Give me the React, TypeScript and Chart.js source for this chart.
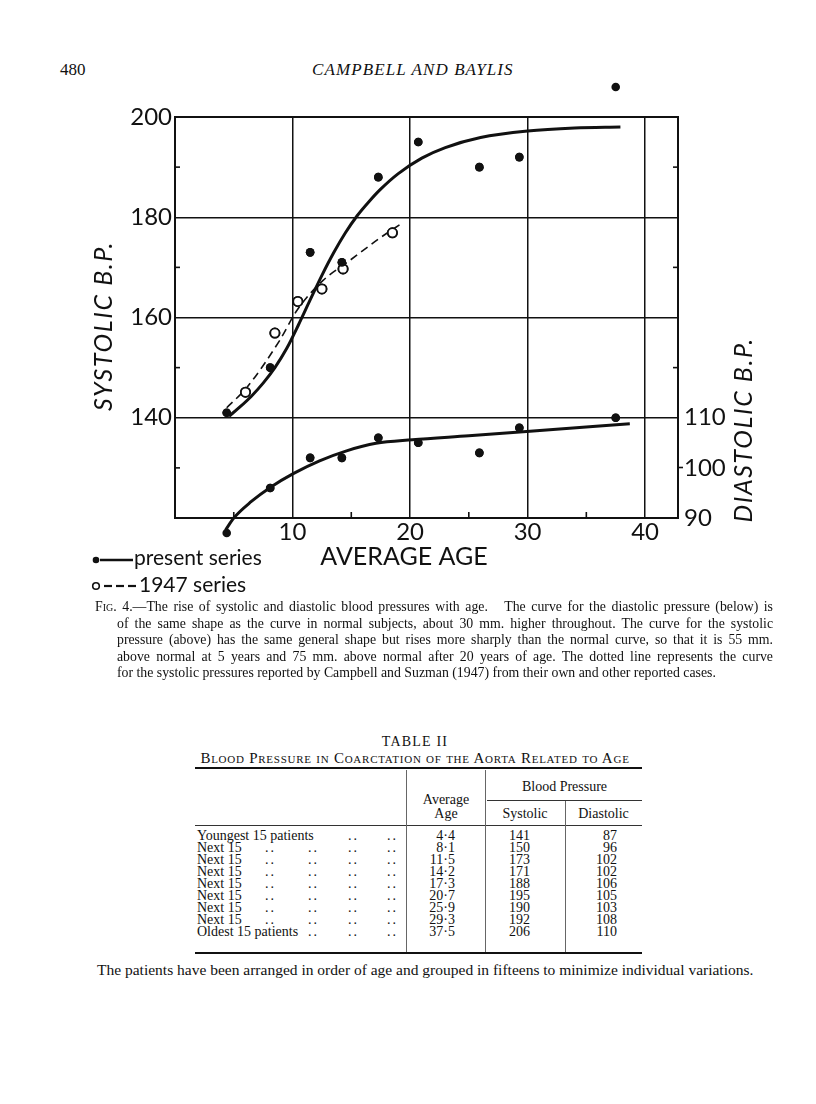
import React, { useEffect, useRef } from "react";
import { Chart, registerables } from "chart.js";

Chart.register(...registerables);

// ---------------- data ----------------
const groupLabels = [
  "Youngest 15 patients",
  "Next 15",
  "Next 15",
  "Next 15",
  "Next 15",
  "Next 15",
  "Next 15",
  "Next 15",
  "Oldest 15 patients",
];
const leaderCounts = [2, 4, 4, 4, 4, 4, 4, 4, 3];
const averageAge = [4.4, 8.1, 11.5, 14.2, 17.3, 20.7, 25.9, 29.3, 37.5];
const systolicBP = [141, 150, 173, 171, 188, 195, 190, 192, 206];
const diastolicBP = [87, 96, 102, 102, 106, 105, 103, 108, 110];

// 1947 series (Campbell and Suzman) open circles
const age1947 = [6.0, 8.5, 10.45, 12.5, 14.3, 18.5];
const systolic1947 = [145.1, 156.9, 163.2, 165.7, 169.7, 176.9];

// fitted curves
const sysCurveAge = [4.6, 5.5, 6.5, 7.5, 8.5, 9.5, 10.5, 11.5, 12.5, 13.5, 14.5, 15.5, 16.5, 17.5, 19, 21, 23, 26, 30, 34, 37.9];
const sysCurveBP = [140.3, 142.1, 144.3, 146.9, 150.0, 153.8, 158.5, 163.5, 168.4, 172.9, 176.9, 180.3, 183.1, 185.6, 188.7, 191.8, 193.9, 195.9, 197.2, 197.8, 198.0];
const curve1947Age = [4.4, 6.1, 8.9, 10.4, 12.6, 14.6, 17.4, 19.3];
const curve1947BP = [142, 146, 155.4, 161.5, 167.4, 170.9, 175.8, 178.8];
const diaCurveAge = [4.3, 5.0, 6.5, 8.1, 10.1, 12.3, 14.6, 17.1, 20.2, 25.0, 30.2, 38.7];
const diaCurveBP = [87.6, 90, 93.3, 96.1, 98.9, 101.4, 103.4, 104.9, 105.6, 106.4, 107.3, 108.8];

// axes
const ageTicks = [10, 20, 30, 40];
const ageMinorTicks = [5, 15, 25, 35];
const systolicTicks = [140, 160, 180, 200];
const systolicMinorLeft = [130, 150, 170, 190];
const systolicMinorRight = [150, 170, 190];
const diastolicTicks = [90, 100, 110];
const diastolicMarked = [100];

const xTitle = "AVERAGE AGE";
const yTitle = "SYSTOLIC B.P.";
const y2Title = "DIASTOLIC B.P.";
const legendLabels = ["present series", "1947 series"];

const INK = "#111";
const SANS = "Lato";

const pts = (xs: number[], ys: number[]) => xs.map((x, i) => ({ x, y: ys[i] }));

const drawLine = (ctx: CanvasRenderingContext2D, x1: number, y1: number, x2: number, y2: number) => {
  ctx.beginPath();
  ctx.moveTo(x1, y1);
  ctx.lineTo(x2, y2);
  ctx.stroke();
};

const decorPlugin = {
  id: "decor",
  afterDatasetsDraw(chart: any) {
    // redraw point marks without the chart-area cut so out-of-range points show
    const ctx = chart.ctx;
    const whole = { left: -9999, top: -9999, right: 9999, bottom: 9999 };
    const metas = chart.getSortedVisibleDatasetMetas();
    for (let i = metas.length - 1; i >= 0; i--) {
      for (const el of metas[i].data) el.draw(ctx, whole);
    }
  },
  afterDraw(chart: any) {
    const { ctx, chartArea: a, scales } = chart;
    const sx = scales.x;
    const sy = scales.y;
    ctx.save();
    ctx.strokeStyle = INK;
    ctx.fillStyle = INK;
    ctx.lineWidth = 1.6;
    systolicMinorLeft.forEach((v) => {
      const p = sy.getPixelForValue(v);
      drawLine(ctx, a.left, p, a.left + 5, p);
    });
    systolicMinorRight.forEach((v) => {
      const p = sy.getPixelForValue(v);
      drawLine(ctx, a.right - 5, p, a.right, p);
    });
    ageMinorTicks.forEach((v) => {
      const p = sx.getPixelForValue(v);
      drawLine(ctx, p, a.bottom, p, a.bottom - 6);
    });

    // x title
    ctx.textAlign = "center";
    ctx.textBaseline = "alphabetic";
    ctx.font = `25px ${SANS}`;
    ctx.fillText(xTitle, 404, 505);

    // rotated titles
    ctx.font = `italic 25px ${SANS}`;
    (ctx as any).letterSpacing = "1.6px";
    ctx.textBaseline = "middle";
    ctx.save();
    ctx.translate(104, 266);
    ctx.rotate(-Math.PI / 2);
    ctx.fillText(yTitle, 0, 0);
    ctx.restore();
    ctx.save();
    ctx.translate(744, 370);
    ctx.rotate(-Math.PI / 2);
    ctx.fillText(y2Title, 0, 0);
    ctx.restore();
    (ctx as any).letterSpacing = "0px";

    // legend
    ctx.textAlign = "left";
    ctx.textBaseline = "alphabetic";
    ctx.font = `21px ${SANS}`;
    ctx.beginPath();
    ctx.arc(96, 500, 3.3, 0, Math.PI * 2);
    ctx.fill();
    ctx.lineWidth = 2.6;
    drawLine(ctx, 100, 500, 133, 500);
    ctx.fillText(legendLabels[0], 134, 505);

    ctx.lineWidth = 1.6;
    ctx.beginPath();
    ctx.arc(96, 526, 3.3, 0, Math.PI * 2);
    ctx.stroke();
    ctx.lineWidth = 2.2;
    [104, 116, 128].forEach((x0) => drawLine(ctx, x0, 526, x0 + 8, 526));
    ctx.fillText(legendLabels[1], 139, 532);
    ctx.restore();
  },
};

function buildConfig(): any {
  const tickFont = { family: SANS, size: 24 };
  return {
    type: "scatter",
    data: {
      datasets: [
        {
          label: "present series systolic",
          data: pts(averageAge, systolicBP),
          yAxisID: "y",
          showLine: false,
          pointRadius: 4.3,
          pointBackgroundColor: INK,
          pointBorderColor: INK,
          pointBorderWidth: 0,
          clip: false,
        },
        {
          label: "present series diastolic",
          data: pts(averageAge, diastolicBP),
          yAxisID: "y2",
          showLine: false,
          pointRadius: 4.3,
          pointBackgroundColor: INK,
          pointBorderColor: INK,
          pointBorderWidth: 0,
          clip: false,
        },
        {
          label: "1947 series",
          data: pts(age1947, systolic1947),
          yAxisID: "y",
          showLine: false,
          pointRadius: 4.6,
          pointBackgroundColor: "#fff",
          pointBorderColor: INK,
          pointBorderWidth: 1.8,
        },
        {
          label: "present series systolic curve",
          data: pts(sysCurveAge, sysCurveBP),
          yAxisID: "y",
          showLine: true,
          borderColor: INK,
          borderWidth: 3,
          pointRadius: 0,
          cubicInterpolationMode: "monotone",
          capBezierPoints: false,
          clip: false,
        },
        {
          label: "1947 series curve",
          data: pts(curve1947Age, curve1947BP),
          yAxisID: "y",
          showLine: true,
          borderColor: INK,
          borderWidth: 1.6,
          borderDash: [8, 5],
          pointRadius: 0,
          cubicInterpolationMode: "monotone",
          capBezierPoints: false,
        },
        {
          label: "present series diastolic curve",
          data: pts(diaCurveAge, diaCurveBP),
          yAxisID: "y2",
          showLine: true,
          borderColor: INK,
          borderWidth: 3,
          pointRadius: 0,
          cubicInterpolationMode: "monotone",
          capBezierPoints: false,
          clip: false,
        },
      ],
    },
    options: {
      animation: false,
      responsive: false,
      devicePixelRatio: 1,
      events: [],
      layout: { padding: { top: 57, left: 0, right: 0, bottom: 0 } },
      plugins: { legend: { display: false }, tooltip: { enabled: false }, title: { display: false } },
      scales: {
        x: {
          type: "linear",
          position: "bottom",
          min: 0,
          max: 42.8,
          afterBuildTicks: (s: any) => {
            s.ticks = ageTicks.map((v) => ({ value: v }));
          },
          afterFit: (s: any) => {
            s.height = 82;
          },
          grid: { color: INK, lineWidth: 1.5, drawTicks: false },
          border: { display: true, color: INK, width: 2 },
          ticks: { font: tickFont, color: INK, padding: 0, maxRotation: 0, autoSkip: false },
        },
        y: {
          type: "linear",
          position: "left",
          min: 120,
          max: 200,
          afterBuildTicks: (s: any) => {
            s.ticks = systolicTicks.map((v) => ({ value: v }));
          },
          afterFit: (s: any) => {
            s.width = 175;
          },
          grid: {
            color: INK,
            lineWidth: (c: any) => (c.tick && c.tick.value === 200 ? 2 : 1.5),
            drawTicks: false,
          },
          border: { display: true, color: INK, width: 2 },
          ticks: { font: tickFont, color: INK, padding: 3 },
        },
        y2: {
          type: "linear",
          position: "right",
          min: 90,
          max: 170,
          afterBuildTicks: (s: any) => {
            s.ticks = diastolicTicks.map((v) => ({ value: v }));
          },
          afterFit: (s: any) => {
            s.width = 138;
          },
          grid: {
            drawOnChartArea: false,
            drawTicks: true,
            tickLength: 5,
            tickWidth: 1.6,
            tickColor: (c: any) =>
              c.tick && diastolicMarked.includes(c.tick.value) ? INK : "rgba(0,0,0,0)",
          },
          border: { display: true, color: INK, width: 2 },
          ticks: { font: tickFont, color: INK, padding: 1 },
        },
      },
    },
    plugins: [decorPlugin],
  };
}

const fmtAge = (v: number) => v.toFixed(1).replace(".", "\u00b7");
const leaderX = [270, 313, 353, 392];

const abs = (left: number, top: number, extra: React.CSSProperties = {}): React.CSSProperties => ({
  position: "absolute",
  left,
  top,
  whiteSpace: "nowrap",
  ...extra,
});

const captionLines = [
  "of the same shape as the curve in normal subjects, about 30 mm. higher throughout.   The curve for the systolic",
  "pressure (above) has the same general shape but rises more sharply than the normal curve, so that it is 55 mm.",
  "above normal at 5 years and 75 mm. above normal after 20 years of age.   The dotted line represents the curve",
  "for the systolic pressures reported by Campbell and Suzman (1947) from their own and other reported cases.",
];

export default function App() {
  const canvasRef = useRef<HTMLCanvasElement | null>(null);

  useEffect(() => {
    const canvas = canvasRef.current;
    if (!canvas) return;
    const chart = new Chart(canvas, buildConfig());
    return () => chart.destroy();
  }, []);

  const serif = '"Liberation Serif", "Times New Roman", serif';
  const capFont = 13.8;
  const rowTop0 = 829;
  const rowStep = 12;

  return (
    <div
      style={{
        position: "absolute",
        left: 0,
        top: 0,
        width: 816,
        height: 1104,
        background: "#fff",
        color: INK,
        fontFamily: serif,
        overflow: "hidden",
      }}
    >
      {/* running head */}
      <div style={abs(60, 60, { fontSize: 17, lineHeight: "20px" })}>480</div>
      <div style={abs(312, 60, { fontSize: 17, lineHeight: "20px", fontStyle: "italic", letterSpacing: 1.1 })}>
        CAMPBELL AND BAYLIS
      </div>

      <canvas
        ref={canvasRef}
        width={816}
        height={540}
        style={{ position: "absolute", left: 0, top: 60, width: 816, height: 540 }}
      />

      {/* caption */}
      <div
        style={{
          position: "absolute",
          left: 95,
          top: 599,
          width: 678,
          fontSize: capFont,
          lineHeight: "16.5px",
          textAlign: "justify",
          textAlignLast: "justify",
        }}
      >
        <span style={{ fontVariant: "small-caps" }}>Fig.</span> 4.—The rise of systolic and diastolic blood pressures
        with age.&nbsp;&nbsp; The curve for the diastolic pressure (below) is
      </div>
      {captionLines.map((t, i) => (
        <div
          key={i}
          style={{
            position: "absolute",
            left: 117,
            top: 599 + 16.5 * (i + 1),
            width: 656,
            fontSize: capFont,
            lineHeight: "16.5px",
            textAlign: i < 3 ? "justify" : "left",
            textAlignLast: i < 3 ? "justify" : "left",
            whiteSpace: i < 3 ? "normal" : "nowrap",
          }}
        >
          {t}
        </div>
      ))}

      {/* table */}
      <div style={abs(315, 734, { width: 200, textAlign: "center", fontSize: 14, letterSpacing: 1.2 })}>TABLE II</div>
      <div
        style={abs(115, 750, {
          width: 600,
          textAlign: "center",
          fontSize: 15,
          fontVariant: "small-caps",
          letterSpacing: 0.75,
        })}
      >
        Blood Pressure in Coarctation of the Aorta Related to Age
      </div>

      <div style={{ position: "absolute", left: 195, top: 767, width: 447, height: 2, background: INK }} />
      <div style={{ position: "absolute", left: 487, top: 800, width: 155, height: 1, background: "#333" }} />
      <div style={{ position: "absolute", left: 195, top: 825, width: 447, height: 1, background: "#333" }} />
      <div style={{ position: "absolute", left: 195, top: 952, width: 447, height: 2, background: INK }} />
      <div style={{ position: "absolute", left: 406, top: 770, width: 1, height: 182, background: "#666" }} />
      <div style={{ position: "absolute", left: 485, top: 770, width: 1, height: 182, background: "#666" }} />
      <div style={{ position: "absolute", left: 565, top: 801, width: 1, height: 151, background: "#666" }} />

      <div style={abs(487, 779, { width: 155, textAlign: "center", fontSize: 14, lineHeight: "16px" })}>
        Blood Pressure
      </div>
      <div style={abs(406, 793, { width: 80, textAlign: "center", fontSize: 14, lineHeight: "14px" })}>
        Average
        <br />
        Age
      </div>
      <div style={abs(485, 807, { width: 80, textAlign: "center", fontSize: 14, lineHeight: "14px" })}>Systolic</div>
      <div style={abs(565, 807, { width: 77, textAlign: "center", fontSize: 14, lineHeight: "14px" })}>Diastolic</div>

      {groupLabels.map((lab, i) => {
        const top = rowTop0 + rowStep * i;
        const leaders = leaderX.slice(leaderX.length - leaderCounts[i]);
        return (
          <React.Fragment key={i}>
            <div style={abs(197, top, { fontSize: 14, lineHeight: "14px" })}>{lab}</div>
            {leaders.map((lx, j) => (
              <div key={j} style={abs(lx - 5, top, { fontSize: 14, lineHeight: "14px", letterSpacing: 2 })}>
                ..
              </div>
            ))}
            <div style={abs(395, top, { width: 60, textAlign: "right", fontSize: 14, lineHeight: "14px" })}>
              {fmtAge(averageAge[i])}
            </div>
            <div style={abs(470, top, { width: 60, textAlign: "right", fontSize: 14, lineHeight: "14px" })}>
              {systolicBP[i]}
            </div>
            <div style={abs(557, top, { width: 60, textAlign: "right", fontSize: 14, lineHeight: "14px" })}>
              {diastolicBP[i]}
            </div>
          </React.Fragment>
        );
      })}

      <div style={abs(97, 961, { fontSize: 15.5, lineHeight: "17px" })}>
        The patients have been arranged in order of age and grouped in fifteens to minimize individual variations.
      </div>
    </div>
  );
}
